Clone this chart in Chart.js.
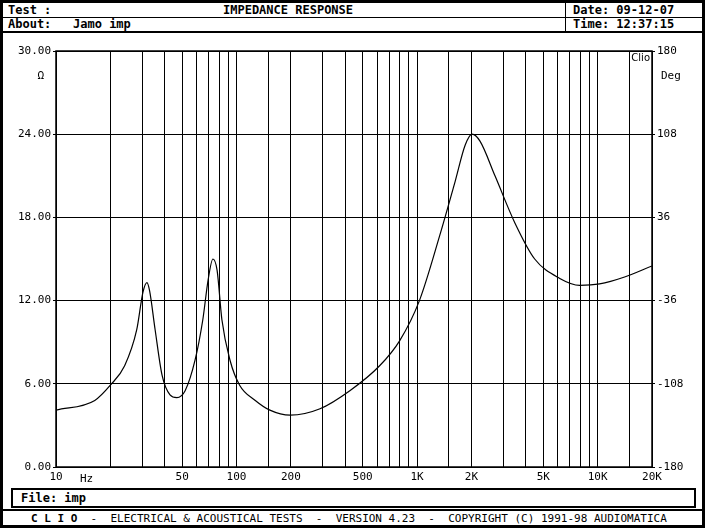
<!DOCTYPE html>
<html><head><meta charset="utf-8">
<script src="https://cdn.jsdelivr.net/npm/chart.js@4"></script>
<style>
body{margin:0;background:#fff;font-family:"DejaVu Sans Mono",monospace;}
#page{position:relative;width:699px;height:522px;border:3px solid #000;overflow:hidden;}
.t{position:absolute;font-size:12px;font-weight:bold;white-space:pre;line-height:13px;}
.hl{position:absolute;background:#000;}
#cw{position:absolute;left:-3px;top:37px;width:705px;height:445px;}
</style></head><body>
<div id="page">
<div class="t" style="left:5px;top:1px">Test :</div>
<div class="t" style="left:220px;top:1px">IMPEDANCE RESPONSE</div>
<div class="t" style="left:570px;top:1px">Date: 09-12-07</div>
<div class="hl" style="left:0;top:14px;width:699px;height:1px"></div>
<div class="t" style="left:5px;top:15px">About:   Jamo imp</div>
<div class="t" style="left:570px;top:15px">Time: 12:37:15</div>
<div class="hl" style="left:0;top:28px;width:699px;height:2px"></div>
<div class="hl" style="left:562px;top:0;width:1px;height:29px"></div>
<div style="position:absolute;left:8px;top:485px;width:681px;height:16px;border:2px solid #000"></div>
<div class="t" style="left:18px;top:489px">File: imp</div>
<div class="hl" style="left:0;top:506px;width:699px;height:2px"></div>
<div class="t" style="left:28px;top:509px;font-weight:normal;font-size:11px"><b>C L I O</b>  -  ELECTRICAL &amp; ACOUSTICAL TESTS  -  VERSION 4.23  -  COPYRIGHT (C) 1991-98 AUDIOMATICA</div>
<div id="cw"><canvas id="c"></canvas></div>
</div>
<script>
const freqs=[10,16.4,20,24,28,30.3,31.9,33,35.4,38.7,42.8,46.7,51.9,58.9,65,69.6,74,78,83,92,104,127,153,198,290,424,620,800,1030,1335,1625,1845,2015,2230,2700,3480,4480,6170,7960,10250,14100,20000];
const ohms=[4.1,4.8,5.9,7.3,9.9,12.6,13.3,12.7,9.9,6.6,5.2,5.0,5.5,7.7,10.6,13.5,15.0,14.2,10.6,7.7,5.9,4.8,4.1,3.74,4.2,5.5,7.3,9.1,12.0,16.7,20.6,23.2,24.0,23.5,21.0,17.6,15.0,13.6,13.1,13.2,13.7,14.5];
const gridFreqs=[10,20,30,40,50,60,70,80,90,100,150,200,300,400,500,600,700,800,900,1000,1500,2000,3000,4000,5000,6000,7000,8000,9000,10000,15000,20000];
const freqLabels={10:'10',50:'50',100:'100',200:'200',500:'500',1000:'1K',2000:'2K',5000:'5K',10000:'10K',20000:'20K'};
const ohmTicks=[0,6,12,18,24,30];
const degTicks=[-180,-108,-36,36,108,180];
const font={family:'"DejaVu Sans Mono"',size:11};
const extra={id:'extra',afterDraw(ch){const c=ch.ctx,a=ch.chartArea;c.save();c.fillStyle='#000';c.font='11px "DejaVu Sans Mono"';
c.textAlign='right';c.fillText('Ω',44,39);c.textAlign='left';c.fillText('Deg',661,39);c.fillText('Hz',80,ch.height-3);
c.font='10px "DejaVu Sans"';c.textAlign='right';c.fillText('Clio',a.right-2,a.top+10);
c.lineWidth=1.5;c.strokeRect(a.left,a.top,a.right-a.left,a.bottom-a.top);c.restore();}};
new Chart(document.getElementById('c'),{type:'line',
data:{datasets:[{data:freqs.map((f,i)=>({x:f,y:ohms[i]})),borderColor:'#000',borderWidth:1.2,pointRadius:0,tension:0.4,cubicInterpolationMode:'monotone'}]},
options:{responsive:true,maintainAspectRatio:false,animation:false,layout:{padding:{top:11,left:0,right:0,bottom:0}},
plugins:{legend:{display:false},tooltip:{enabled:false}},
scales:{
x:{type:'logarithmic',min:10,max:20000,afterBuildTicks:s=>{s.ticks=gridFreqs.map(v=>({value:v}));},
ticks:{autoSkip:false,maxRotation:0,color:'#000',font,padding:4,callback:v=>freqLabels[v]||''},
grid:{color:'#000',lineWidth:1,drawTicks:false},border:{display:false},afterFit:s=>{s.height=18;}},
y:{min:0,max:30,afterBuildTicks:s=>{s.ticks=ohmTicks.map(v=>({value:v}));},
ticks:{color:'#000',font,padding:2,callback:v=>v.toFixed(2)},grid:{color:'#000',lineWidth:1,tickLength:3},border:{display:false},afterFit:s=>{s.width=56;}},
y2:{position:'right',min:-180,max:180,afterBuildTicks:s=>{s.ticks=degTicks.map(v=>({value:v}));},
ticks:{color:'#000',font,padding:2},grid:{drawOnChartArea:false,color:'#000',tickLength:3},border:{display:false},afterFit:s=>{s.width=53;}}
}},plugins:[extra]});
</script></body></html>
